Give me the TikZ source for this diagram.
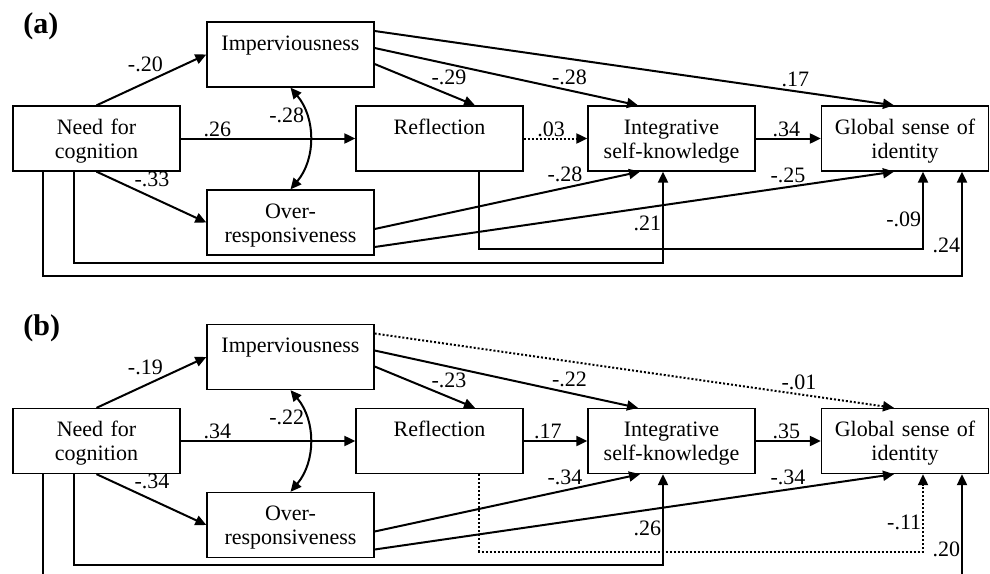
\documentclass[tikz,border=0pt]{standalone}
\usepackage{fontspec}
\setmainfont{Liberation Serif}
\usetikzlibrary{arrows.meta}

\begin{document}
\begin{tikzpicture}[x=0.5pt,y=-0.5pt,>={Triangle[length=5.5pt,width=5pt]},
  varbox/.style={draw,line width=0.65pt,inner xsep=0pt,inner ysep=0pt,
    text width=83.5pt,align=center,text height=14pt,text depth=18.5pt,
    font=\fontsize{11}{12}\selectfont},
  eff/.style={->,line width=1pt},
  ns/.style={eff,densely dotted},
  coef/.style={font=\fontsize{11}{12}\selectfont,inner sep=0.4pt},
  panel/.style={font=\fontsize{15}{15}\selectfont\bfseries,anchor=base west,inner sep=0pt}]
  \useasboundingbox (0,0) rectangle (990,573);
  \clip (0,0) rectangle (990,573);

  %panel (a)
  \node[panel] (tagA) at (23,33) {(a)};
  \node[varbox] (needA) at (96.5,138.5) {Need for\\cognition};
  \node[varbox] (impA) at (290.5,54.5) {Imperviousness};
  \node[varbox] (overA) at (290.5,222.5) {Over-\\responsiveness};
  \node[varbox] (reflA) at (439.5,138.5) {Reflection};
  \node[varbox] (integA) at (671.5,138.5) {Integrative\\self-knowledge};
  \node[varbox] (globA) at (905,138.5) {Global sense of\\identity};

  \draw[eff] (needA.north) -- node[coef,pos=0.62,above left] {-.20} (impA.west);
  \draw[eff] (needA.south) -- node[coef,pos=0.33,above right] {-.33} (overA.west);
  \draw[eff] (needA.east) -- node[coef,pos=0.21,above] {.26} (reflA.west);
  \draw[eff,<->] (impA.south) to[bend left=40] node[coef,pos=0.28,left] {-.28} (overA.north);
  \draw[eff] ([yshift=-4.75pt]impA.east) -- node[coef,pos=0.55,above right] {-.29} ([xshift=17.75pt]reflA.north);
  \draw[eff] ([yshift=3.25pt]impA.east) -- node[coef,pos=0.667,above right] {-.28} ([xshift=-16.75pt]integA.north);
  \draw[eff] ([yshift=11.75pt]impA.east) -- node[coef,pos=0.78,above right] {.17} ([xshift=-5.5pt]globA.north);
  \draw[ns] (reflA.east) -- node[coef,pos=0.43,above] {.03} (integA.west);
  \draw[eff] (integA.east) -- node[coef,pos=0.47,above] {.34} (globA.west);
  \draw[eff] ([yshift=-3.25pt]overA.east) -- node[coef,pos=0.79,above left] {-.28} ([xshift=-15.75pt]integA.south);
  \draw[eff] ([yshift=-12.25pt]overA.east) -- node[coef,pos=0.833,above left] {-.25} ([xshift=-5.5pt]globA.south);
  % paths round the bottom
  \draw[eff] ([xshift=19.75pt]reflA.south) -- ++(0,77.5) -| node[coef,pos=0.69,left] {-.09} ([xshift=9pt]globA.south);
  \draw[eff] ([xshift=-11.25pt]needA.south) -- ++(0,91) -| node[coef,pos=0.716,left] {.21} ([xshift=-4.25pt]integA.south);
  \draw[eff] ([xshift=-26.75pt]needA.south) -- ++(0,104) -| node[coef,pos=0.646,left] {.24} ([xshift=28.5pt]globA.south);

  %panel (b)
  \begin{scope}[shift={(0,302.5)}]
  \node[panel] (tagB) at (23,33) {(b)};
  \node[varbox] (needB) at (96.5,138.5) {Need for\\cognition};
  \node[varbox] (impB) at (290.5,54.5) {Imperviousness};
  \node[varbox] (overB) at (290.5,222.5) {Over-\\responsiveness};
  \node[varbox] (reflB) at (439.5,138.5) {Reflection};
  \node[varbox] (integB) at (671.5,138.5) {Integrative\\self-knowledge};
  \node[varbox] (globB) at (905,138.5) {Global sense of\\identity};

  \draw[eff] (needB.north) -- node[coef,pos=0.62,above left] {-.19} (impB.west);
  \draw[eff] (needB.south) -- node[coef,pos=0.33,above right] {-.34} (overB.west);
  \draw[eff] (needB.east) -- node[coef,pos=0.21,above] {.34} (reflB.west);
  \draw[eff,<->] (impB.south) to[bend left=40] node[coef,pos=0.28,left] {-.22} (overB.north);
  \draw[eff] ([yshift=-4.75pt]impB.east) -- node[coef,pos=0.55,above right] {-.23} ([xshift=17.75pt]reflB.north);
  \draw[eff] ([yshift=3.25pt]impB.east) -- node[coef,pos=0.667,above right] {-.22} ([xshift=-16.75pt]integB.north);
  \draw[ns] ([yshift=11.75pt]impB.east) -- node[coef,pos=0.78,above right] {-.01} ([xshift=-5.5pt]globB.north);
  \draw[eff] (reflB.east) -- node[coef,pos=0.38,above] {.17} (integB.west);
  \draw[eff] (integB.east) -- node[coef,pos=0.47,above] {.35} (globB.west);
  \draw[eff] ([yshift=-3.25pt]overB.east) -- node[coef,pos=0.79,above left] {-.34} ([xshift=-15.75pt]integB.south);
  \draw[eff] ([yshift=-12.25pt]overB.east) -- node[coef,pos=0.833,above left] {-.34} ([xshift=-5.5pt]globB.south);
  % paths round the bottom
  \draw[ns] ([xshift=19.75pt]reflB.south) -- ++(0,77.5) -| node[coef,pos=0.69,left] {-.11} ([xshift=9pt]globB.south);
  \draw[eff] ([xshift=-11.25pt]needB.south) -- ++(0,91) -| node[coef,pos=0.70,left] {.26} ([xshift=-4.25pt]integB.south);
  \draw[eff] ([xshift=-26.75pt]needB.south) -- ++(0,104) -| node[coef,pos=0.64,left] {.20} ([xshift=28.5pt]globB.south);
  \end{scope}
\end{tikzpicture}
\end{document}
